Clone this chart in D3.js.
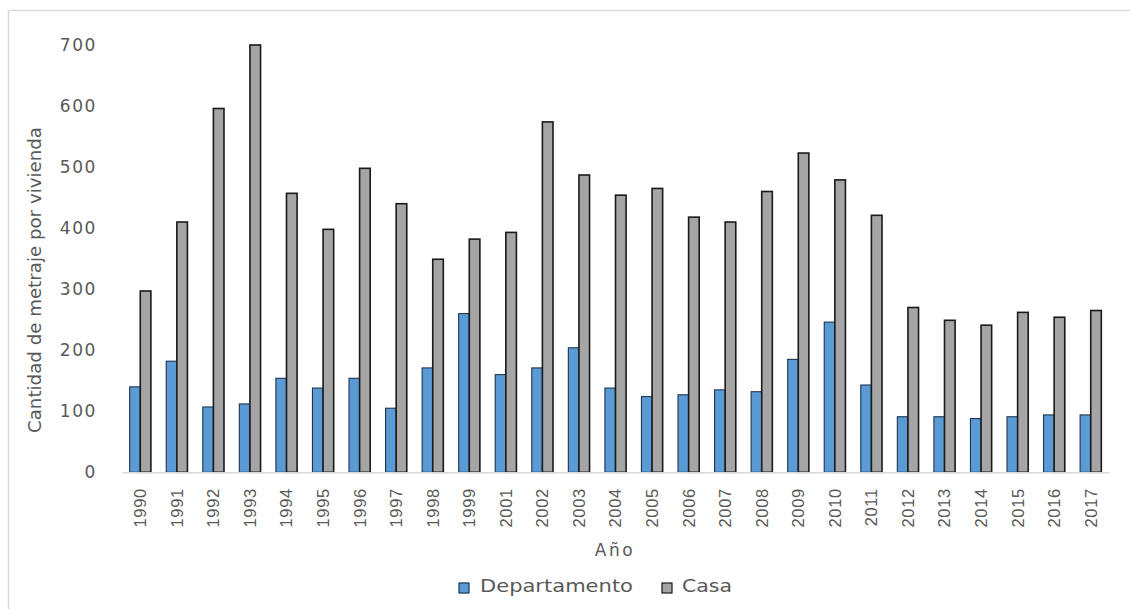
<!DOCTYPE html>
<html>
<head>
<meta charset="utf-8">
<script src="https://cdn.jsdelivr.net/npm/d3@7"></script>
<style>
  html, body { margin: 0; padding: 0; background: #fff; }
  svg { display: block; }
  text { font-family: "DejaVu Sans", sans-serif; fill: #595959; }
</style>
</head>
<body>
<svg id="chart" width="1130" height="609"></svg>
<script>
const years = ["1990","1991","1992","1993","1994","1995","1996","1997","1998","1999",
  "2001","2002","2003","2004","2005","2006","2007","2008","2009","2010","2011",
  "2012","2013","2014","2015","2016","2017"];
const departamento = [140,182,107,112,154,138,154,105,171,260,160,171,204,138,124,127,135,132,185,246,143,91,91,88,91,94,94];
const casa = [297,410,596,700,457,398,498,440,349,382,393,574,487,454,465,418,410,460,523,479,421,270,249,241,262,254,265];
const seriesNames = ["Departamento","Casa"];
const yTicks = [0,100,200,300,400,500,600,700];

const colors = {Departamento: "#5B9BD5", Casa: "#A5A5A5"};
const strokes = {Departamento: "#1F3350", Casa: "#1A1A1A"};

const svg = d3.select("#chart");

// outer frame
svg.append("rect")
  .attr("x", 8.5).attr("y", 10.5)
  .attr("width", 1200).attr("height", 700)
  .attr("fill", "none").attr("stroke", "#D9D9D9").attr("stroke-width", 1.5);

const plotLeft = 122, plotRight = 1109, plotTop = 45, plotBottom = 472.3;

const x0 = d3.scaleBand().domain(years).range([plotLeft, plotRight])
  .paddingInner(0.42).paddingOuter(0.21);
const x1 = d3.scaleBand().domain(seriesNames).range([0, x0.bandwidth()]);
const y = d3.scaleLinear().domain([0, 700]).range([plotBottom, plotTop]);

const data = years.map((yr, i) => ({year: yr, values: [
  {key: "Departamento", value: departamento[i]},
  {key: "Casa", value: casa[i]}
]}));

// bars
const groups = svg.append("g").selectAll("g").data(data).join("g")
  .attr("transform", d => `translate(${x0(d.year)},0)`);
groups.selectAll("rect").data(d => d.values).join("rect")
  .attr("x", d => x1(d.key))
  .attr("y", d => y(d.value))
  .attr("width", x1.bandwidth())
  .attr("height", d => y(0) - y(d.value))
  .attr("fill", d => colors[d.key])
  .attr("stroke", d => strokes[d.key])
  .attr("stroke-width", d => d.key === "Casa" ? 1.6 : 1.1);

// x axis
const xAxis = svg.append("g")
  .attr("transform", `translate(0,${plotBottom})`)
  .call(d3.axisBottom(x0).tickSize(0).tickPadding(0));
xAxis.select(".domain").attr("stroke", "#D9D9D9").attr("stroke-width", 1.5);
xAxis.selectAll(".tick text")
  .attr("transform", "rotate(-90)")
  .attr("x", -16).attr("y", 0).attr("dy", "0.36em")
  .attr("text-anchor", "end")
  .style("font-family", "'Liberation Sans', sans-serif")
  .style("font-size", "16.5px")
  .style("letter-spacing", "0.6px")
  .style("fill", "#595959");

// y axis
const yAxis = svg.append("g")
  .attr("transform", `translate(${plotLeft},0)`)
  .call(d3.axisLeft(y).tickValues(yTicks).tickSize(0).tickPadding(25));
yAxis.select(".domain").remove();
yAxis.selectAll(".tick text")
  .style("font-family", "'DejaVu Sans', sans-serif")
  .style("font-size", "17px")
  .style("letter-spacing", "1.6px")
  .style("fill", "#595959");

// axis titles
svg.append("text")
  .attr("transform", "translate(41,280) rotate(-90)")
  .attr("text-anchor", "middle")
  .attr("textLength", 306)
  .attr("lengthAdjust", "spacingAndGlyphs")
  .style("font-size", "17px")
  .text("Cantidad de metraje por vivienda");

svg.append("text")
  .attr("x", 615).attr("y", 556)
  .attr("text-anchor", "middle")
  .style("font-size", "17px")
  .style("letter-spacing", "2.5px")
  .text("Año");

// legend
const legendItems = [
  {key: "Departamento", sx: 459, tx: 480, len: 153},
  {key: "Casa", sx: 662, tx: 682, len: 50}
];
const lg = svg.append("g");
legendItems.forEach(it => {
  lg.append("rect")
    .attr("x", it.sx).attr("y", 583).attr("width", 10).attr("height", 10)
    .attr("fill", colors[it.key]).attr("stroke", strokes[it.key]).attr("stroke-width", 1.2);
  lg.append("text")
    .attr("x", it.tx).attr("y", 592)
    .attr("textLength", it.len)
    .attr("lengthAdjust", "spacingAndGlyphs")
    .style("font-size", "17px")
    .text(it.key);
});
</script>
</body>
</html>
